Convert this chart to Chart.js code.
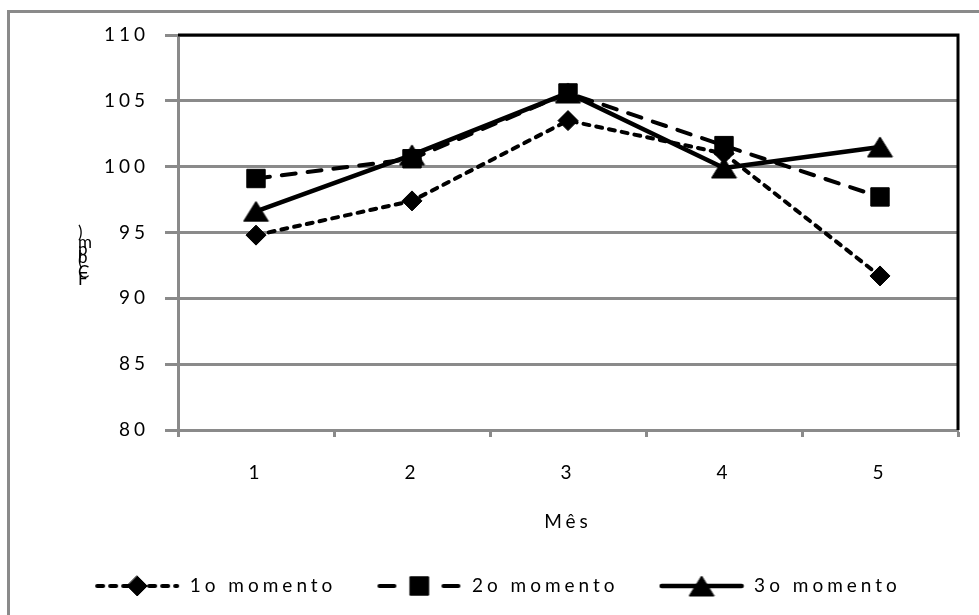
<!DOCTYPE html>
<html>
<head>
<meta charset="utf-8">
<script src="https://cdn.jsdelivr.net/npm/chart.js@4.4.0/dist/chart.umd.min.js"></script>
<style>
  html, body { margin: 0; padding: 0; background: #fff; }
  #wrap { width: 979px; height: 615px; }
</style>
</head>
<body>
<div id="wrap"><canvas id="c" width="979" height="615"></canvas></div>
<script>
// Heart rate per month, measured at three moments
const months = ['1', '2', '3', '4', '5'];
const seriesNames = ['1o momento', '2o momento', '3o momento'];
const momento1 = [94.8, 97.4, 103.5, 101.0, 91.7];
const momento2 = [99.1, 100.6, 105.6, 101.6, 97.7];
const momento3 = [96.6, 100.9, 105.6, 99.9, 101.5];
const yMin = 80, yMax = 110, yStep = 5;
const xTitle = 'Mês';
const yTitle = 'FC (bpm)';

const FONT = 'Lato';
const SPACING = '4px';
const gray = '#8a8a8a';

// Triangle marker whose bounding box is centred on the data point
function triangleMarker(w, h) {
  const c = document.createElement('canvas');
  c.width = w + 2; c.height = h + 2;
  const g = c.getContext('2d');
  g.fillStyle = '#000';
  g.strokeStyle = '#000';
  g.lineJoin = 'round';
  g.lineWidth = 1;
  g.beginPath();
  g.moveTo(1 + w / 2, 1);
  g.lineTo(1 + w, 1 + h);
  g.lineTo(1, 1 + h);
  g.closePath();
  g.fill(); g.stroke();
  return c;
}
const triangle = triangleMarker(25, 20);

// Legend swatch: a short line in the series' dash style with its marker in the middle
function legendIcon(dash, style, radius, lineWidth) {
  const c = document.createElement('canvas');
  c.width = 86; c.height = 28;
  const g = c.getContext('2d');
  g.strokeStyle = '#000';
  g.fillStyle = '#000';
  g.lineWidth = lineWidth;
  g.lineCap = 'round';
  g.setLineDash(dash);
  g.beginPath(); g.moveTo(3, 14); g.lineTo(83, 14); g.stroke();
  g.setLineDash([]);
  g.lineWidth = 1;
  const cx = 43, cy = 14;
  if (style instanceof HTMLCanvasElement) {
    g.drawImage(style, cx - style.width / 2, cy - style.height / 2);
    return c;
  }
  g.beginPath();
  if (style === 'rectRot') {
    g.moveTo(cx, cy - radius); g.lineTo(cx + radius, cy); g.lineTo(cx, cy + radius); g.lineTo(cx - radius, cy);
  } else {
    const s = radius * Math.SQRT1_2;
    g.rect(cx - s, cy - s, 2 * s, 2 * s);
  }
  g.closePath(); g.fill(); g.stroke();
  return c;
}

const styles = [
  { dash: [6, 7], legendDash: [6, 7], point: 'rectRot', radius: 10, width: 4 },
  { dash: [14, 12], legendDash: [15, 49], point: 'rect', radius: 13, width: 4 },
  { dash: [], legendDash: [], point: triangle, radius: 13, width: 4.5 }
];
const seriesValues = [momento1, momento2, momento3];

const datasets = seriesNames.map((name, i) => ({
  label: name,
  data: seriesValues[i],
  borderColor: '#000',
  backgroundColor: '#000',
  borderWidth: styles[i].width,
  borderDash: styles[i].dash,
  borderCapStyle: 'round',
  borderJoinStyle: 'round',
  pointStyle: styles[i].point,
  pointRadius: styles[i].radius,
  pointHoverRadius: styles[i].radius,
  pointBorderWidth: 1,
  pointBackgroundColor: '#000',
  pointBorderColor: '#000',
  tension: 0,
  fill: false,
  legendIcon: legendIcon(styles[i].legendDash, styles[i].point, styles[i].radius, styles[i].width)
}));

// Text spacing for every label drawn by the chart
const spacingPlugin = {
  id: 'spacing',
  beforeUpdate(chart) { chart.ctx.letterSpacing = SPACING; },
  beforeDraw(chart) { chart.ctx.letterSpacing = SPACING; }
};

// Outer frame, and the black top/right edges of the plot area
const framePlugin = {
  id: 'frame',
  beforeDraw(chart) {
    const ctx = chart.ctx;
    ctx.save();
    ctx.strokeStyle = gray;
    ctx.lineWidth = 3;
    ctx.strokeRect(8.5, 11.5, 1100, 800);
    ctx.restore();
  },
  afterDatasetsDraw(chart) {
    const { ctx, chartArea: a } = chart;
    ctx.save();
    ctx.strokeStyle = '#000';
    ctx.lineWidth = 3;
    ctx.beginPath();
    ctx.moveTo(a.left, a.top);
    ctx.lineTo(a.right, a.top);
    ctx.lineTo(a.right, a.bottom);
    ctx.stroke();
    ctx.restore();
  }
};

// Vertical axis title, characters stacked upward
const yTitlePlugin = {
  id: 'yTitle',
  afterDraw(chart) {
    const ctx = chart.ctx;
    ctx.save();
    ctx.letterSpacing = '0px';
    ctx.font = '17px ' + FONT;
    ctx.fillStyle = '#000';
    ctx.textBaseline = 'alphabetic';
    ctx.textAlign = 'left';
    let y = 285;
    for (const ch of yTitle) {
      if (ch !== ' ') ctx.fillText(ch, 78, y);
      y -= ctx.measureText(ch).width * 0.75;
    }
    ctx.restore();
  }
};

new Chart(document.getElementById('c'), {
  type: 'line',
  data: { labels: months, datasets },
  plugins: [spacingPlugin, framePlugin, yTitlePlugin],
  options: {
    responsive: false,
    animation: false,
    devicePixelRatio: 1,
    layout: { padding: { top: 35, right: 21, bottom: 9.5, left: 37 } },
    plugins: {
      tooltip: { enabled: false },
      legend: {
        position: 'bottom',
        labels: {
          usePointStyle: true,
          pointStyleWidth: 86,
          padding: 40,
          color: '#000',
          font: { family: FONT, size: 19 },
          generateLabels(chart) {
            return chart.data.datasets.map((ds, i) => ({
              text: ds.label,
              pointStyle: ds.legendIcon,
              fillStyle: '#000',
              strokeStyle: '#000',
              lineWidth: 0,
              hidden: false,
              datasetIndex: i
            }));
          }
        }
      }
    },
    scales: {
      x: {
        type: 'category',
        offset: true,
        afterFit(scale) { scale.height = 106.5; },
        grid: {
          display: true,
          drawOnChartArea: false,
          drawTicks: true,
          tickLength: 7,
          tickWidth: 3,
          tickColor: gray,
          offset: true
        },
        border: { color: gray, width: 3 },
        ticks: { color: '#000', padding: 24, font: { family: FONT, size: 19 } },
        title: {
          display: true,
          text: xTitle,
          color: '#000',
          font: { family: FONT, size: 19 },
          padding: { top: 0, bottom: 3 }
        }
      },
      y: {
        min: yMin,
        max: yMax,
        afterFit(scale) { scale.width = 141; },
        ticks: {
          stepSize: yStep,
          color: '#000',
          padding: 16,
          font: { family: FONT, size: 19 }
        },
        grid: {
          color: gray,
          lineWidth: 3,
          drawTicks: true,
          tickLength: 13,
          tickColor: gray
        },
        border: { color: gray, width: 3 }
      }
    }
  }
});
</script>
</body>
</html>
